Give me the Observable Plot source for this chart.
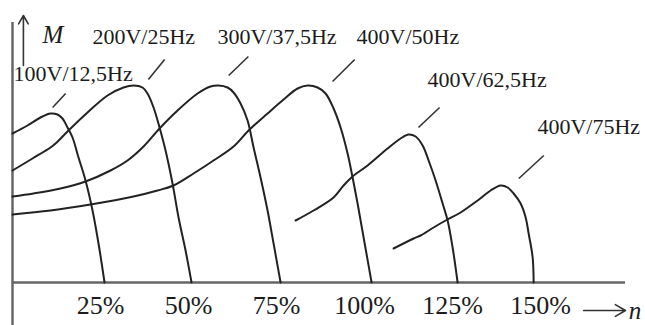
<!DOCTYPE html>
<html><head><meta charset="utf-8">
<script src="https://cdn.jsdelivr.net/npm/d3@7"></script>
<script src="https://cdn.jsdelivr.net/npm/@observablehq/plot@0.6"></script>
<style>body{margin:0;background:#fff}</style>
</head><body><div id="chart"></div>
<script>
// Series (voltage / frequency)
const seriesNames = ["100V/12,5Hz", "200V/25Hz", "300V/37,5Hz", "400V/50Hz", "400V/62,5Hz", "400V/75Hz"];

// speed n (% of rated) and torque M (relative units) for each curve
const nA = [0, 4.26, 7.95, 10.8, 12.78, 14.2, 15.63, 17.05, 18.75, 20.74, 22.73, 24.43, 26.14];
const mA = [1.49, 1.57, 1.65, 1.69, 1.68, 1.64, 1.55, 1.45, 1.25, 1.02, 0.72, 0.39, 0];

const nB = [0, 5.68, 10.8, 12.22, 15.91, 21.31, 26.99, 31.53, 34.38, 36.93, 38.35, 40.06, 41.76, 43.47, 45.45, 47.16, 49.15, 50.85];
const mB = [1.12, 1.24, 1.35, 1.39, 1.52, 1.70, 1.87, 1.95, 1.97, 1.95, 1.89, 1.75, 1.55, 1.32, 0.99, 0.65, 0.32, 0];

const nC = [0, 5.97, 13.64, 20.74, 27.84, 32.67, 37.22, 41.76, 46.88, 52.56, 56.25, 58.52, 61.08, 62.78, 64.77, 66.76, 68.47, 70.45, 72.44, 74.15, 76.14];
const mC = [0.86, 0.89, 0.94, 1.01, 1.12, 1.22, 1.36, 1.54, 1.72, 1.89, 1.96, 1.97, 1.95, 1.90, 1.79, 1.62, 1.35, 1.05, 0.72, 0.39, 0];

const nD = [0, 10.8, 22.16, 34.38, 41.19, 45.74, 51.42, 57.1, 62.78, 67.05, 72.44, 76.99, 80.97, 83.81, 86.65, 88.92, 91.19, 93.18, 95.17, 96.59, 98.01, 99.72, 101.99];
const mD = [0.68, 0.72, 0.78, 0.86, 0.92, 0.97, 1.09, 1.22, 1.36, 1.52, 1.69, 1.83, 1.94, 1.97, 1.95, 1.89, 1.74, 1.55, 1.29, 1.05, 0.79, 0.45, 0];

const nE = [80.4, 85.51, 91.19, 94.03, 96.59, 100.85, 106.53, 110.23, 112.5, 114.49, 116.48, 118.18, 120.17, 122.16, 123.58, 125.0, 126.42];
const mE = [0.62, 0.72, 0.85, 0.97, 1.06, 1.17, 1.34, 1.44, 1.48, 1.46, 1.37, 1.22, 1.02, 0.79, 0.62, 0.35, 0];

const nF = [108.24, 113.92, 115.91, 119.6, 123.01, 127.27, 132.1, 135.8, 138.64, 140.63, 142.33, 144.32, 145.74, 146.59, 147.73, 148.01];
const mF = [0.34, 0.44, 0.47, 0.55, 0.62, 0.70, 0.82, 0.92, 0.97, 0.95, 0.89, 0.79, 0.65, 0.49, 0.25, 0];

// x tick labels
const tickValues = [25, 50, 75, 100, 125, 150];
const tickLabels = ["25%", "50%", "75%", "100%", "125%", "150%"];

// curve label anchors (data units)
const labelN = [0.3, 22.7, 58.2, 97.7, 117.9, 149.1];
const labelM = [2.02, 2.39, 2.39, 2.39, 1.96, 1.49];

// leader lines (data units)
const leadN1 = [11.4, 38.6, 61.4, 90.9, 115.3, 143.8];
const leadM1 = [1.75, 2.03, 2.07, 2.01, 1.55, 1.04];
const leadN2 = [15.1, 43.2, 67.0, 97.2, 121.3, 150.9];
const leadM2 = [1.89, 2.23, 2.26, 2.23, 1.75, 1.27];

const axisNameY = "M";
const axisNameX = "n";

const curveSets = [[nA, mA], [nB, mB], [nC, mC], [nD, mD], [nE, mE], [nF, mF]];
const curves = curveSets.flatMap(([ns, ms], i) => ns.map((n, j) => ({series: seriesNames[i], n, M: ms[j]})));
const labels = seriesNames.map((s, i) => ({s, n: labelN[i], M: labelM[i]}));
const leaders = seriesNames.map((s, i) => ({x1: leadN1[i], y1: leadM1[i], x2: leadN2[i], y2: leadM2[i]}));

const font = "'Liberation Serif', 'Times New Roman', serif";
const ink = "#1c1c1c";

const plot = Plot.plot({
  width: 645, height: 325,
  marginLeft: 12, marginRight: 20, marginTop: 22, marginBottom: 43,
  x: {domain: [0, 174.1], axis: null},
  y: {domain: [0, 2.6], axis: null},
  style: {fontFamily: font, background: "#fff", color: ink},
  marks: [
    Plot.ruleY([0], {stroke: "#666", strokeWidth: 2.5}),
    Plot.ruleX([0], {y1: -0.43, y2: 2.6, stroke: "#666", strokeWidth: 2.5}),
    Plot.line(curves, {x: "n", y: "M", z: "series", curve: "catmull-rom", stroke: "#222", strokeWidth: 2}),
    Plot.link(leaders, {x1: "x1", y1: "y1", x2: "x2", y2: "y2", stroke: "#333", strokeWidth: 1.6}),
    Plot.text(labels, {x: "n", y: "M", text: "s", textAnchor: "start", lineAnchor: "bottom", fontSize: 22, fill: ink}),
    Plot.axisX(tickValues, {tickSize: 0, tickPadding: 13, tickFormat: (d, i) => tickLabels[tickValues.indexOf(d)], fontSize: 26, label: null, fill: ink}),
    Plot.arrow([0], {x1: 3.1, y1: 2.17, x2: 3.1, y2: 2.67, stroke: "#333", strokeWidth: 1.6, headLength: 9}),
    Plot.text([axisNameY], {x: 8.5, y: 2.40, text: d => d, textAnchor: "start", lineAnchor: "bottom", fontSize: 25, fontStyle: "italic", fill: ink}),
    Plot.arrow([0], {x1: 162.2, y1: -0.28, x2: 174.1, y2: -0.28, stroke: "#333", strokeWidth: 1.6, headLength: 11}),
    Plot.text([axisNameX], {x: 175, y: -0.36, text: d => d, textAnchor: "start", lineAnchor: "bottom", fontSize: 25, fontStyle: "italic", fill: ink})
  ]
});
document.getElementById("chart").appendChild(plot);
</script>
</body></html>
